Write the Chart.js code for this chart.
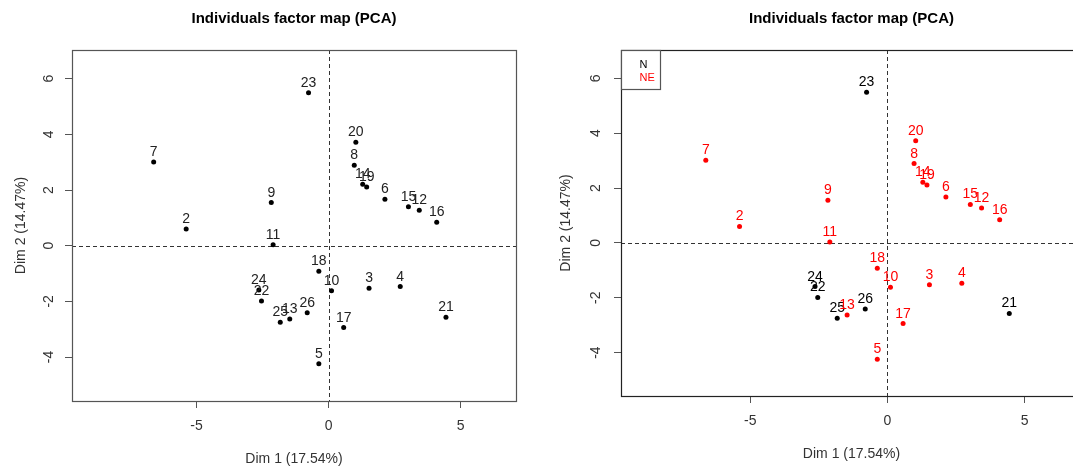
<!DOCTYPE html>
<html>
<head>
<meta charset="utf-8">
<script src="https://cdn.jsdelivr.net/npm/chart.js@4.4.1/dist/chart.umd.min.js"></script>
<style>
  html, body { margin: 0; padding: 0; background: #fff; overflow: hidden; }
  #wrap { position: relative; width: 1073px; height: 466px; overflow: hidden; }
  canvas { position: absolute; top: 0; }
  #leftChart { left: 0; }
  #rightChart { left: 540px; }
</style>
</head>
<body>
<div id="wrap">
  <canvas id="leftChart" width="540" height="466"></canvas>
  <canvas id="rightChart" width="560" height="466"></canvas>
</div>
<script>
// individuals
const ids    = ["2", "3", "4", "5", "6", "7", "8", "9", "10", "11", "12", "13", "14",
                "15", "16", "17", "18", "19", "20", "21", "22", "23", "24", "25", "26"];
const dim1   = [-5.39, 1.53, 2.71, -0.37, 2.13, -6.62, 0.97, -2.17, 0.11, -2.10, 3.43, -1.47, 1.29,
                3.02, 4.09, 0.57, -0.37, 1.44, 1.03, 4.44, -2.54, -0.76, -2.64, -1.83, -0.81];
const dim2   = [0.60, -1.53, -1.47, -4.24, 1.67, 3.01, 2.89, 1.55, -1.62, 0.03, 1.27, -2.63, 2.21,
                1.40, 0.84, -2.94, -0.92, 2.11, 3.72, -2.57, -1.99, 5.49, -1.59, -2.75, -2.41];
const groups = ["NE", "NE", "NE", "NE", "NE", "NE", "NE", "NE", "NE", "NE", "NE", "NE", "NE",
                "NE", "NE", "NE", "NE", "NE", "NE", "N", "N", "N", "N", "N", "N"];

const groupNames = ["N", "NE"];
const groupColors = ["#000000", "#ff0000"];

const xTicks = [-5, 0, 5];
const yTicks = [-4, -2, 0, 2, 4, 6];
const xLimits = [-9.71, 7.09];
const yLimits = [-5.58, 7.03];

const chartTitle = "Individuals factor map (PCA)";
const xTitle = "Dim 1 (17.54%)";
const yTitle = "Dim 2 (14.47%)";

const FONT = "'Liberation Sans', Arial, sans-serif";

function pointsFor(filterFn) {
  const pts = [];
  const labels = [];
  ids.forEach((id, i) => {
    if (filterFn(i)) {
      pts.push({ x: dim1[i], y: dim2[i] });
      labels.push(id);
    }
  });
  return { pts, labels };
}

// draws box, dashed zero lines, tick labels, titles, point labels, legend
const factorMapPlugin = {
  id: "factorMap",
  beforeDatasetsDraw(chart, args, opts) {
    const { ctx, chartArea: a, scales } = chart;
    const x0 = scales.x.getPixelForValue(0);
    const y0 = scales.y.getPixelForValue(0);
    ctx.save();
    ctx.strokeStyle = "#333";
    ctx.lineWidth = 1;
    ctx.setLineDash([4, 3]);
    ctx.beginPath();
    ctx.moveTo(Math.round(x0) + 0.5, a.top);
    ctx.lineTo(Math.round(x0) + 0.5, a.bottom);
    ctx.moveTo(a.left, Math.round(y0) + 0.5);
    ctx.lineTo(a.right, Math.round(y0) + 0.5);
    ctx.stroke();
    ctx.restore();
  },
  afterDraw(chart, args, opts) {
    const { ctx, chartArea: a, scales } = chart;
    ctx.save();

    // frame
    ctx.strokeStyle = opts.frameColor;
    ctx.lineWidth = 1.2;
    ctx.strokeRect(Math.round(a.left) + 0.5, Math.round(a.top) + 0.5,
                   Math.round(a.right - a.left), Math.round(a.bottom - a.top));

    // tick labels
    ctx.fillStyle = "#333";
    ctx.font = "14px " + FONT;
    ctx.textAlign = "center";
    ctx.textBaseline = "middle";
    xTicks.forEach(v => {
      ctx.fillText(String(v), scales.x.getPixelForValue(v), a.bottom + 25);
    });
    yTicks.forEach(v => {
      ctx.save();
      ctx.translate(a.left - opts.yTickGap, scales.y.getPixelForValue(v));
      ctx.rotate(-Math.PI / 2);
      ctx.fillText(String(v), 0, 0);
      ctx.restore();
    });

    // axis titles
    ctx.fillStyle = "#333";
    ctx.font = "14px " + FONT;
    ctx.fillText(xTitle, (a.left + a.right) / 2, a.bottom + 58);
    ctx.save();
    ctx.translate(a.left - opts.yTitleGap, (a.top + a.bottom) / 2);
    ctx.rotate(-Math.PI / 2);
    ctx.fillText(yTitle, 0, 0);
    ctx.restore();

    // main title
    ctx.fillStyle = "#000";
    ctx.font = "bold 15px " + FONT;
    ctx.fillText(chartTitle, (a.left + a.right) / 2, 19);

    // point labels
    ctx.font = "14px " + FONT;
    ctx.textBaseline = "alphabetic";
    chart.data.datasets.forEach((ds, i) => {
      const meta = chart.getDatasetMeta(i);
      ctx.fillStyle = ds.textColor;
      meta.data.forEach((el, j) => {
        ctx.fillText(ds.pointLabels[j], el.x, el.y - 6);
      });
    });

    // legend
    if (opts.legend) {
      const lx = Math.round(a.left) + 0.5;
      const ly = Math.round(a.top) + 0.5;
      ctx.fillStyle = "#fff";
      ctx.fillRect(lx, ly, 39, 39);
      ctx.strokeStyle = "#555";
      ctx.lineWidth = 1.2;
      ctx.strokeRect(lx, ly, 39, 39);
      ctx.font = "11px " + FONT;
      ctx.textAlign = "left";
      ctx.textBaseline = "middle";
      groupNames.forEach((g, k) => {
        ctx.fillStyle = groupColors[k];
        ctx.fillText(g, lx + 18, ly + 14 + k * 13);
      });
    }
    ctx.restore();
  }
};

function makeChart(canvasId, datasets, layout) {
  return new Chart(document.getElementById(canvasId), {
    type: "scatter",
    data: { datasets },
    options: {
      responsive: false,
      animation: false,
      devicePixelRatio: 1,
      layout: { padding: { top: 50, right: layout.padRight, left: 0, bottom: 0 } },
      plugins: {
        legend: { display: false },
        tooltip: { enabled: false },
        factorMap: {
          legend: layout.legend,
          frameColor: layout.frameColor,
          yTickGap: layout.yTickGap,
          yTitleGap: layout.yTitleGap
        }
      },
      scales: {
        x: {
          type: "linear",
          min: xLimits[0],
          max: xLimits[1],
          afterBuildTicks: s => { s.ticks = xTicks.map(v => ({ value: v })); },
          afterFit: s => { s.height = layout.xAxisHeight; },
          ticks: { display: false },
          border: { display: false },
          grid: { drawOnChartArea: false, drawTicks: true, tickLength: 7, color: "#555", lineWidth: 1 }
        },
        y: {
          type: "linear",
          min: yLimits[0],
          max: yLimits[1],
          afterBuildTicks: s => { s.ticks = yTicks.map(v => ({ value: v })); },
          afterFit: s => { s.width = layout.yAxisWidth; },
          ticks: { display: false },
          border: { display: false },
          grid: { drawOnChartArea: false, drawTicks: true, tickLength: 7, color: "#555", lineWidth: 1 }
        }
      }
    },
    plugins: [factorMapPlugin]
  });
}

// left panel: all individuals in black
const all = pointsFor(() => true);
makeChart("leftChart", [{
  data: all.pts,
  pointLabels: all.labels,
  textColor: "#222",
  backgroundColor: "#000",
  borderWidth: 0,
  pointRadius: 2.5
}], { padRight: 24, xAxisHeight: 65, yAxisWidth: 72, yTickGap: 23, yTitleGap: 51, legend: false, frameColor: "#555" });

// right panel: coloured by group
const groupSets = groupNames.map((g, k) => {
  const p = pointsFor(i => groups[i] === g);
  return {
    label: g,
    data: p.pts,
    pointLabels: p.labels,
    textColor: groupColors[k],
    backgroundColor: groupColors[k],
    borderWidth: 0,
    pointRadius: 2.5
  };
});
makeChart("rightChart", groupSets,
  { padRight: 18, xAxisHeight: 70, yAxisWidth: 81, yTickGap: 25, yTitleGap: 55, legend: true, frameColor: "#222" });
</script>
</body>
</html>
